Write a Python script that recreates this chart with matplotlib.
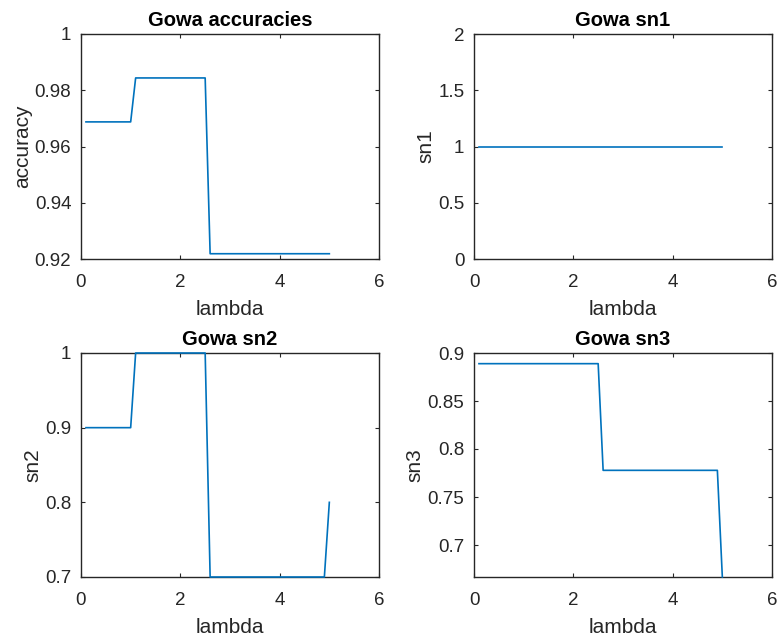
import numpy as np
import matplotlib
matplotlib.use("Agg")
import matplotlib.pyplot as plt

plt.rcParams['font.family'] = ['Liberation Sans', 'DejaVu Sans']

lam = [0.1, 0.2, 0.3, 0.4, 0.5, 0.6, 0.7, 0.8, 0.9, 1.0,
       1.1, 1.2, 1.3, 1.4, 1.5, 1.6, 1.7, 1.8, 1.9, 2.0,
       2.1, 2.2, 2.3, 2.4, 2.5, 2.6, 2.7, 2.8, 2.9, 3.0,
       3.1, 3.2, 3.3, 3.4, 3.5, 3.6, 3.7, 3.8, 3.9, 4.0,
       4.1, 4.2, 4.3, 4.4, 4.5, 4.6, 4.7, 4.8, 4.9, 5.0]

accuracy = [0.96875] * 10 + [0.984375] * 15 + [0.921875] * 25
sn1 = [1.0] * 50
sn2 = [0.9] * 10 + [1.0] * 15 + [0.7] * 24 + [0.8]
sn3 = [8 / 9] * 25 + [7 / 9] * 24 + [2 / 3]

xticks = [0, 2, 4, 6]
panels = [
    ("Gowa accuracies", "accuracy", accuracy, (0.92, 1.0), [0.92, 0.94, 0.96, 0.98, 1.0], ["0.92", "0.94", "0.96", "0.98", "1"]),
    ("Gowa sn1", "sn1", sn1, (0, 2), [0, 0.5, 1, 1.5, 2], ["0", "0.5", "1", "1.5", "2"]),
    ("Gowa sn2", "sn2", sn2, (0.7, 1.0), [0.7, 0.8, 0.9, 1.0], ["0.7", "0.8", "0.9", "1"]),
    ("Gowa sn3", "sn3", sn3, (2 / 3, 0.9), [0.7, 0.75, 0.8, 0.85, 0.9], ["0.7", "0.75", "0.8", "0.85", "0.9"]),
]

W, H = 781, 639
fig = plt.figure(figsize=(W / 100, H / 100), dpi=100)
positions = [
    (81, 34, 298, 225),
    (474, 34, 298, 225),
    (81, 353, 298, 224),
    (474, 353, 298, 224),
]
axc = (0.15, 0.15, 0.15)
for (title, ylabel, y, ylim, yt, ytl), (l, t, w, h) in zip(panels, positions):
    ax = fig.add_axes([l / W, 1 - (t + h) / H, w / W, h / H])
    ax.plot(lam, y, color='#0072BD', lw=1.2, clip_on=False, zorder=3)
    ax.set_xlim(0, 6)
    ax.set_ylim(*ylim)
    ax.set_xticks(xticks)
    ax.set_xticklabels([str(v) for v in xticks])
    ax.set_yticks(yt)
    ax.set_yticklabels(ytl)
    ax.tick_params(direction='in', length=3, width=0.8, colors=axc, labelsize=13.5,
                   top=True, right=True, labelcolor=axc)
    ax.tick_params(axis='x', pad=11)
    ax.tick_params(axis='y', pad=7)
    for s in ax.spines.values():
        s.set_color(axc)
        s.set_linewidth(1.0)
    ax.set_title(title, fontsize=14.5, fontweight='bold', color='black', pad=6)
    ax.set_xlabel('lambda', fontsize=15, color=axc, labelpad=6)
    ax.set_ylabel(ylabel, fontsize=15, color=axc, labelpad=2)

fig.savefig('out.png', dpi=100)
